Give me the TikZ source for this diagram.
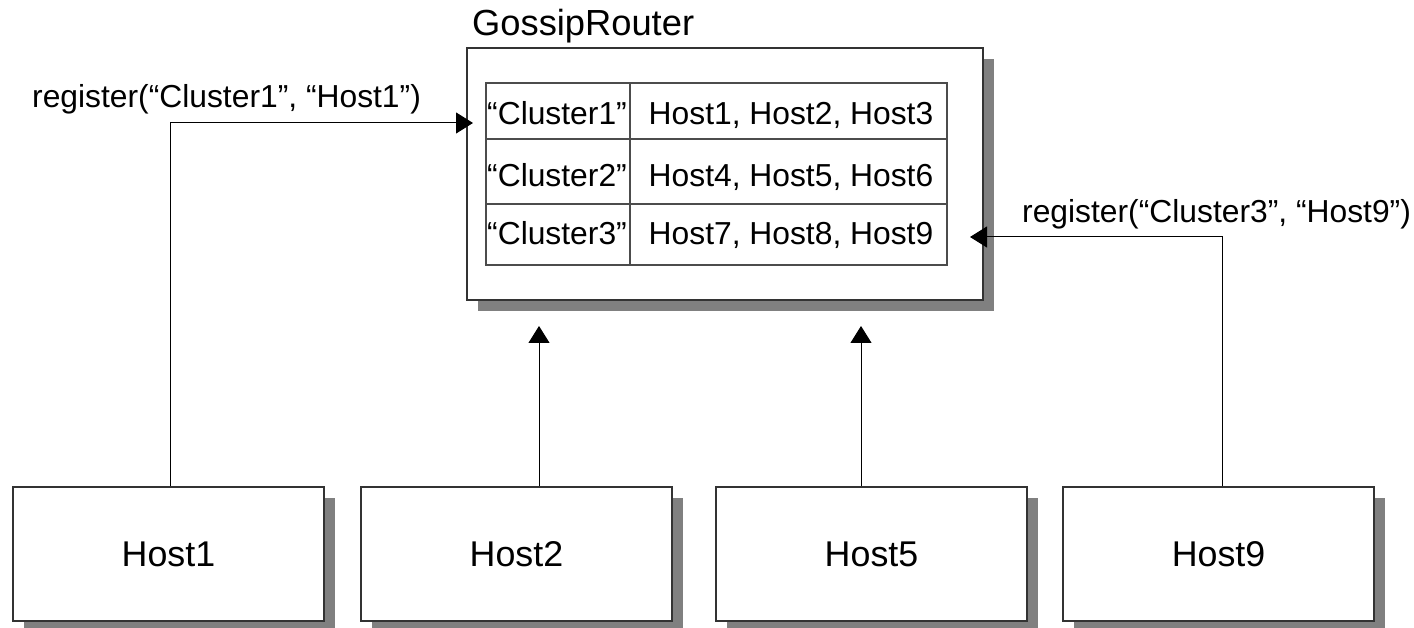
\documentclass[tikz,border=0pt]{standalone}
\usepackage{fontspec}
\setmainfont{Liberation Sans}
\usetikzlibrary{arrows.meta,shadows}
\begin{document}
\begin{tikzpicture}[x=1pt,y=-1pt,
  shadowbox/.style={draw=black!80, line width=1.4pt, fill=white,
    general shadow={fill=black!50, shadow xshift=11pt, shadow yshift=-11pt}},
  hostbox/.style={shadowbox, minimum width=311pt, minimum height=134pt, inner sep=0pt,
    font=\fontsize{35.8}{43}\selectfont},
  cell/.style={draw=black!70, line width=1.2pt, fill=white, inner sep=0pt},
  celltext/.style={anchor=base, inner sep=0pt, font=\fontsize{31.8}{38}\selectfont},
  lbl/.style={anchor=base west, inner sep=0pt, font=\fontsize{31.8}{38}\selectfont},
  conn/.style={draw=black, line width=1pt, -{Triangle[length=17pt,width=21pt]}}]
\useasboundingbox (0,0) rectangle (1414,628);

% GossipRouter
\node[anchor=base west, inner sep=0pt, font=\fontsize{36.3}{43}\selectfont] (grl) at (472,36) {GossipRouter};
\node[shadowbox, minimum width=516pt, minimum height=252pt, inner sep=0pt] (gr) at (725,174) {};

% table cells
\node[cell, minimum width=144pt, minimum height=56pt] (k1) at (558,111) {};
\node[cell, minimum width=317pt, minimum height=56pt] (v1c) at (788.5,111) {};
\node[cell, minimum width=144pt, minimum height=65pt] (k2) at (558,171.5) {};
\node[cell, minimum width=317pt, minimum height=65pt] (v2c) at (788.5,171.5) {};
\node[cell, minimum width=144pt, minimum height=61pt] (k3) at (558,234.5) {};
\node[cell, minimum width=317pt, minimum height=61pt] (v3c) at (788.5,234.5) {};

\node[celltext] (k1t) at (557,125) {“Cluster1”};
\node[celltext] (v1t) at (791,125) {Host1, Host2, Host3};
\node[celltext] (k2t) at (557,187) {“Cluster2”};
\node[celltext] (v2t) at (791,187) {Host4, Host5, Host6};
\node[celltext] (k3t) at (557,245) {“Cluster3”};
\node[celltext] (v3t) at (791,245) {Host7, Host8, Host9};

% hosts
\node[hostbox] (h1) at (168.5,554) {Host1};
\node[hostbox] (h2) at (516.5,554) {Host2};
\node[hostbox] (h5) at (871.5,554) {Host5};
\node[hostbox] (h9) at (1218.5,554) {Host9};

% labels
\node[lbl] (r1) at (32,108) {register(“Cluster1”, “Host1”)};
\node[lbl] (r9) at (1022,223) {register(“Cluster3”, “Host9”)};

% connectors
\coordinate (x1) at (170,0);
\coordinate (t1) at (473,123);
\coordinate (t2) at (539,326);
\coordinate (t5) at (861,326);
\coordinate (x9) at (1222,0);
\coordinate (t9) at (970,237);
\draw[conn] (h1.north -| x1) |- (t1);
\draw[conn] (h2.north -| t2) -- (t2);
\draw[conn] (h5.north -| t5) -- (t5);
\draw[conn] (h9.north -| x9) |- (t9);
\end{tikzpicture}
\end{document}
